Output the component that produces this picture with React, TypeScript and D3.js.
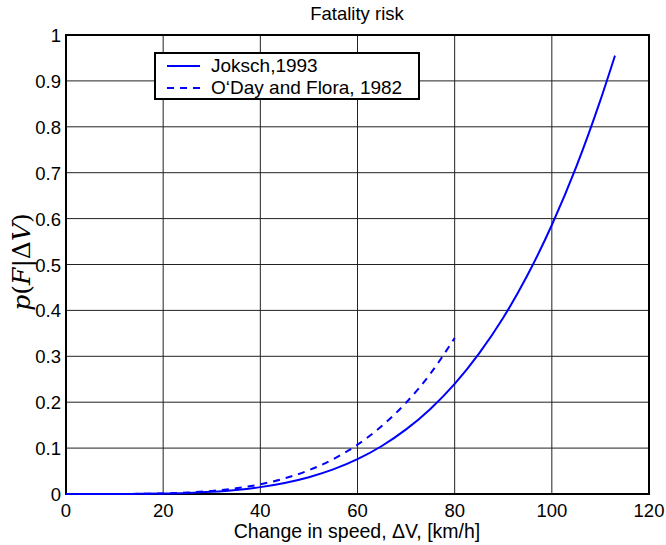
import React from "react";
import * as d3 from "d3";

const xTicks = [0, 20, 40, 60, 80, 100, 120];
const yTicks = [0, 0.1, 0.2, 0.3, 0.4, 0.5, 0.6, 0.7, 0.8, 0.9, 1];

const jokschV = [0, 5, 10, 15, 20, 25, 30, 35, 40, 45, 50, 55, 60, 65, 70, 75, 80, 85, 90, 95, 100, 105, 110, 113];
const jokschP = [0, 0, 0.0001, 0.0003, 0.0009, 0.0023, 0.0048, 0.0088, 0.015, 0.024, 0.0366, 0.0536, 0.0759, 0.1046, 0.1407, 0.1854, 0.24, 0.306, 0.384, 0.477, 0.586, 0.712, 0.858, 0.955];

const odayV = [0, 5, 10, 15, 20, 25, 30, 35, 40, 45, 50, 55, 60, 65, 70, 75, 80];
const odayP = [0, 0, 0.0001, 0.0004, 0.0013, 0.0032, 0.0067, 0.0124, 0.0212, 0.034, 0.0518, 0.0759, 0.1074, 0.148, 0.199, 0.262, 0.34];

const L = 66, R = 649, T = 35, B = 494;

export default function App() {
  const x = d3.scaleLinear().domain([0, 120]).range([L, R]);
  const y = d3.scaleLinear().domain([0, 1]).range([B, T]);
  const line = d3
    .line<[number, number]>()
    .x((d) => x(d[0]))
    .y((d) => y(d[1]))
    .curve(d3.curveMonotoneX);
  const j = jokschV.map((v, i) => [v, jokschP[i]] as [number, number]);
  const o = odayV.map((v, i) => [v, odayP[i]] as [number, number]);
  const font = "'Liberation Sans', Arial, Helvetica, sans-serif";
  return (
    <svg width={666} height={545} style={{ position: "absolute", left: 0, top: 0, background: "#fff" }}>
      <rect x={0} y={0} width={666} height={545} fill="#fff" />
      {xTicks.map((t) => (
        <line key={"gx" + t} x1={x(t)} x2={x(t)} y1={T} y2={B} stroke="#222" strokeWidth={1} />
      ))}
      {yTicks.map((t) => (
        <line key={"gy" + t} x1={L} x2={R} y1={y(t)} y2={y(t)} stroke="#222" strokeWidth={1} />
      ))}
      <rect x={L} y={T} width={R - L} height={B - T} fill="none" stroke="#000" strokeWidth={2} />
      <path d={line(o) || ""} fill="none" stroke="#0000ff" strokeWidth={2} strokeDasharray="7,6" />
      <path d={line(j) || ""} fill="none" stroke="#0000ff" strokeWidth={2} />
      {xTicks.map((t) => (
        <text key={"tx" + t} x={x(t)} y={B + 23} textAnchor="middle" fontFamily={font} fontSize={18.5} fill="#000">
          {t}
        </text>
      ))}
      {yTicks.map((t) => (
        <text key={"ty" + t} x={L - 5} y={y(t) + 7} textAnchor="end" fontFamily={font} fontSize={18.5} fill="#000">
          {t}
        </text>
      ))}
      <text x={357} y={20} textAnchor="middle" fontFamily={font} fontSize={18.5} fill="#000">
        Fatality risk
      </text>
      <text x={357} y={538} textAnchor="middle" fontFamily={font} fontSize={19.5} fill="#000">
        Change in speed, ΔV, [km/h]
      </text>
      <text
        transform="translate(30,262) rotate(-90)"
        textAnchor="middle"
        fontFamily="'DejaVu Serif', 'Liberation Serif', serif"
        fontSize={25}
        fill="#000"
      >
        <tspan fontStyle="italic">p</tspan>
        <tspan>(</tspan>
        <tspan fontStyle="italic">F</tspan>
        <tspan>|</tspan>
        <tspan>Δ</tspan>
        <tspan fontStyle="italic">V</tspan>
        <tspan>)</tspan>
      </text>
      <g>
        <rect x={155} y={53} width={264} height={46} fill="#fff" stroke="#000" strokeWidth={2} />
        <line x1={167} x2={200} y1={66} y2={66} stroke="#0000ff" strokeWidth={2} />
        <line x1={167} x2={200} y1={88} y2={88} stroke="#0000ff" strokeWidth={2} strokeDasharray="7,6" />
        <text x={211} y={72} fontFamily={font} fontSize={19} fill="#000">Joksch,1993</text>
        <text x={211} y={94} fontFamily={font} fontSize={19} fill="#000">O‘Day and Flora, 1982</text>
      </g>
    </svg>
  );
}
